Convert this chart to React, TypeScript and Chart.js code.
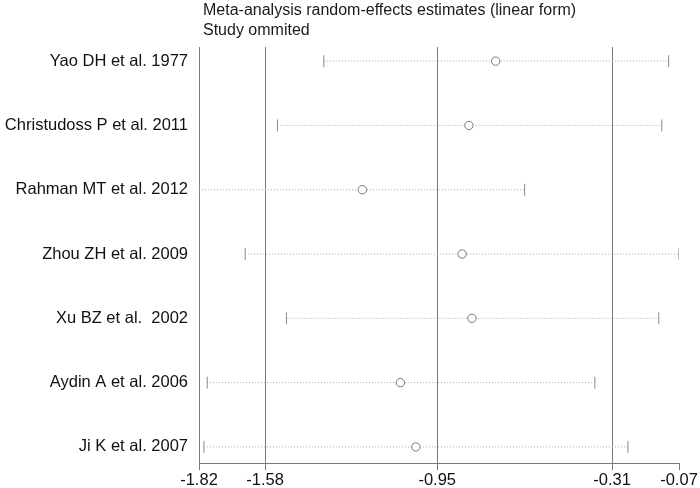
import React, { useEffect, useRef } from "react";
import { Chart, registerables } from "chart.js";

Chart.register(...registerables);

const studies = [
  "Yao DH et al. 1977",
  "Christudoss P et al. 2011",
  "Rahman MT et al. 2012",
  "Zhou ZH et al. 2009",
  "Xu BZ et al.  2002",
  "Aydin A et al. 2006",
  "Ji K et al. 2007",
];
const estimates = [-0.736, -0.834, -1.224, -0.859, -0.823, -1.085, -1.028];
const lowerCI = [-1.365, -1.535, -1.822, -1.653, -1.502, -1.792, -1.804];
const upperCI = [-0.103, -0.128, -0.63, -0.065, -0.139, -0.373, -0.252];

const tickValues = [-1.822, -1.58, -0.95, -0.31, -0.065];
const tickLabels = ["-1.82", "-1.58", "-0.95", "-0.31", "-0.07"];
const gridValues = [-1.58, -0.95, -0.31];

const titleLines = [
  "Meta-analysis random-effects estimates (linear form)",
  "Study ommited",
];

const FONT = "'Liberation Sans', Arial, sans-serif";

export default function App() {
  const ref = useRef<HTMLCanvasElement | null>(null);

  useEffect(() => {
    if (!ref.current) return;
    const rows = studies.map((_, i) => i + 1);

    const intervalSets = rows.map((r, i) => ({
      type: "line" as const,
      data: [
        { x: lowerCI[i], y: r },
        { x: upperCI[i], y: r },
      ],
      borderColor: "#a8a8a8",
      borderWidth: 1,
      borderDash: [1, 2],
      pointRadius: 0,
      fill: false,
      order: 3,
    }));

    const capSet = {
      type: "scatter" as const,
      data: rows.flatMap((r, i) => [
        { x: lowerCI[i], y: r },
        { x: upperCI[i], y: r },
      ]),
      pointStyle: "line",
      rotation: 90,
      radius: 6,
      pointRadius: 6,
      borderColor: "#8a8a8a",
      borderWidth: 1,
      order: 2,
    };

    const estSet = {
      type: "scatter" as const,
      data: rows.map((r, i) => ({ x: estimates[i], y: r })),
      pointStyle: "circle",
      pointRadius: 4.2,
      backgroundColor: "#ffffff",
      borderColor: "#777777",
      borderWidth: 1,
      order: 1,
    };

    const titlePlugin = {
      id: "titleText",
      afterDraw(chart: any) {
        const ctx = chart.ctx;
        ctx.save();
        ctx.fillStyle = "#1a1a1a";
        ctx.font = `16px ${FONT}`;
        ctx.textAlign = "left";
        ctx.textBaseline = "middle";
        ctx.fillText(titleLines[0], 203, 11);
        ctx.fillText(titleLines[1], 203, 31);
        ctx.restore();
      },
    };

    const chart = new Chart(ref.current, {
      type: "scatter",
      data: { datasets: [...intervalSets, capSet, estSet] as any },
      plugins: [titlePlugin],
      options: {
        animation: false,
        responsive: false,
        maintainAspectRatio: false,
        layout: { padding: { top: 47, right: 21, bottom: 0, left: 0 } },
        plugins: {
          legend: { display: false },
          tooltip: { enabled: false },
          title: { display: false },
        },
        scales: {
          x: {
            type: "linear",
            position: "bottom",
            min: tickValues[0],
            max: tickValues[tickValues.length - 1],
            afterBuildTicks: (scale: any) => {
              scale.ticks = tickValues.map((v) => ({ value: v }));
            },
            afterFit: (scale: any) => {
              scale.height = 25;
              scale.paddingLeft = 0;
              scale.paddingRight = 0;
            },
            ticks: {
              autoSkip: false,
              maxRotation: 0,
              padding: 1,
              color: "#111111",
              font: { family: FONT, size: 16.5 },
              callback: (_v: any, i: number) => tickLabels[i],
            },
            grid: {
              display: true,
              drawOnChartArea: true,
              drawTicks: true,
              tickLength: 7,
              lineWidth: 1,
              color: (ctx: any) =>
                ctx.tick && gridValues.includes(ctx.tick.value)
                  ? "#7a7a7a"
                  : "rgba(0,0,0,0)",
              tickColor: "#7a7a7a",
            },
            border: { display: true, color: "#7a7a7a", width: 1 },
          },
          y: {
            type: "linear",
            position: "left",
            reverse: true,
            min: 0.78,
            max: 7.25,
            afterBuildTicks: (scale: any) => {
              scale.ticks = rows.map((v) => ({ value: v }));
            },
            afterFit: (scale: any) => {
              scale.width = 199;
              scale.paddingTop = 0;
              scale.paddingBottom = 0;
            },
            ticks: {
              autoSkip: false,
              padding: 11,
              color: "#111111",
              font: { family: FONT, size: 16.5 },
              callback: (v: any) => studies[Number(v) - 1] ?? "",
            },
            grid: { display: false, drawTicks: false },
            border: { display: true, color: "#7a7a7a", width: 1 },
          },
        },
      } as any,
    });
    return () => chart.destroy();
  }, []);

  return (
    <div style={{ position: "fixed", left: 0, top: 0, width: 700, height: 488, background: "#fff" }}>
      <canvas ref={ref} width={700} height={488} style={{ width: 700, height: 488, display: "block" }} />
    </div>
  );
}
